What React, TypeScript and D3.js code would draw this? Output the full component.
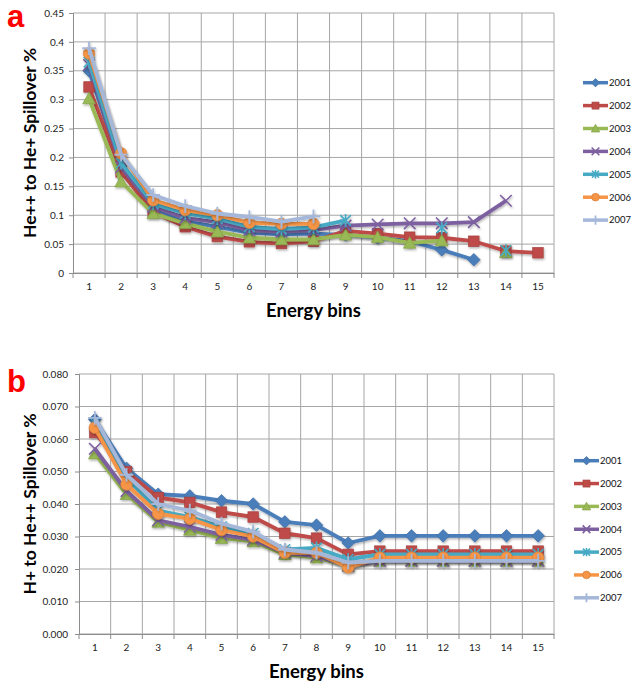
import React, { useEffect, useRef } from "react";
import * as d3 from "d3";

const bins = ["1", "2", "3", "4", "5", "6", "7", "8", "9", "10", "11", "12", "13", "14", "15"];
const years = ["2001", "2002", "2003", "2004", "2005", "2006", "2007"];
const colors = ["#4A7EBB", "#BE4B48", "#98B954", "#7D60A0", "#46AAC5", "#F69546", "#A5B8DA"];
const markers = ["diamond", "square", "triangle", "x", "star", "circle", "plus"];

// panel a: He++ to He+ spillover
const heA2001 = [0.35, 0.185, 0.112, 0.09, 0.08, 0.07, 0.067, 0.068, 0.066, 0.061, 0.055, 0.04, 0.023, null, null];
const heA2002 = [0.322, 0.175, 0.105, 0.08, 0.063, 0.054, 0.051, 0.055, 0.073, 0.068, 0.062, 0.061, 0.055, 0.038, 0.035];
const heA2003 = [0.302, 0.158, 0.103, 0.086, 0.0715, 0.061, 0.058, 0.058, 0.066, 0.062, 0.052, 0.056, null, 0.036, null];
const heA2004 = [0.36, 0.183, 0.115, 0.095, 0.088, 0.074, 0.0715, 0.074, 0.082, 0.084, 0.086, 0.086, 0.088, 0.125, null];
const heA2005 = [0.365, 0.19, 0.12, 0.103, 0.094, 0.08, 0.076, 0.079, 0.091, null, null, 0.078, null, 0.039, null];
const heA2006 = [0.38, 0.207, 0.126, 0.109, 0.1, 0.087, 0.085, 0.085, null, null, null, null, null, null, null];
const heA2007 = [0.389, 0.205, 0.135, 0.116, 0.103, 0.097, 0.089, 0.098, null, null, null, null, null, null, null];

// panel b: H+ to He++ spillover
const hB2001 = [0.066, 0.051, 0.043, 0.0425, 0.041, 0.04, 0.0345, 0.0335, 0.028, 0.0302, 0.0302, 0.0302, 0.0302, 0.0302, 0.0302];
const hB2002 = [0.062, 0.05, 0.042, 0.0405, 0.0375, 0.036, 0.031, 0.0295, 0.0245, 0.0255, 0.0255, 0.0255, 0.0255, 0.0255, 0.0255];
const hB2003 = [0.0555, 0.043, 0.0345, 0.032, 0.0295, 0.0285, 0.0245, 0.0235, 0.021, 0.0225, 0.0225, 0.0225, 0.0225, 0.0225, 0.0225];
const hB2004 = [0.057, 0.044, 0.035, 0.033, 0.0305, 0.029, 0.025, 0.024, 0.021, 0.0225, 0.0225, 0.0225, 0.0225, 0.0225, 0.0225];
const hB2005 = [0.065, 0.048, 0.038, 0.036, 0.033, 0.031, 0.026, 0.0265, 0.023, 0.0245, 0.0245, 0.0245, 0.0245, 0.0245, 0.0245];
const hB2006 = [0.0635, 0.046, 0.037, 0.0355, 0.032, 0.03, 0.025, 0.025, 0.0205, 0.0235, 0.0235, 0.0235, 0.0235, 0.0235, 0.0235];
const hB2007 = [0.0665, 0.049, 0.04, 0.038, 0.034, 0.0315, 0.026, 0.025, 0.022, 0.0225, 0.0225, 0.0225, 0.0225, 0.0225, 0.0225];

const panels = [
  {
    label: "a", yTitle: "He++ to He+ Spillover %", series: [heA2001, heA2002, heA2003, heA2004, heA2005, heA2006, heA2007],
    left: 73, right: 554, top: 13, bottom: 273, yMax: 0.45, step: 0.05, fmt: (v) => String(+v.toFixed(2)), pad: 5,
    titleY: 317, legX: 583, legY: 82.7, legDy: 22.9, labelY: 27,
  },
  {
    label: "b", yTitle: "H+ to He++ Spillover %", series: [hB2001, hB2002, hB2003, hB2004, hB2005, hB2006, hB2007],
    left: 79, right: 554, top: 374, bottom: 634, yMax: 0.08, step: 0.01, fmt: d3.format(".3f"), pad: 7,
    titleY: 678, legX: 574, legY: 460.7, legDy: 22.85, labelY: 392,
  },
];

const font = "Lato, 'Open Sans', sans-serif";

function drawMarker(g, type, color, s) {
  const dark = d3.color(color).darker(0.4).toString();
  if (type === "diamond") {
    g.append("path").attr("d", `M0,${-6 * s}L${6 * s},0L0,${6 * s}L${-6 * s},0Z`).attr("fill", color).attr("stroke", dark).attr("stroke-width", 0.7);
  } else if (type === "square") {
    g.append("rect").attr("x", -5 * s).attr("y", -5 * s).attr("width", 10 * s).attr("height", 10 * s).attr("fill", color).attr("stroke", dark).attr("stroke-width", 0.7);
  } else if (type === "triangle") {
    g.append("path").attr("d", `M0,${-6 * s}L${6 * s},${5 * s}L${-6 * s},${5 * s}Z`).attr("fill", color).attr("stroke", dark).attr("stroke-width", 0.7);
  } else if (type === "circle") {
    g.append("circle").attr("r", 5.5 * s).attr("fill", color).attr("stroke", dark).attr("stroke-width", 0.7);
  } else if (type === "x") {
    g.append("path").attr("d", `M${-5.5 * s},${-5.5 * s}L${5.5 * s},${5.5 * s}M${-5.5 * s},${5.5 * s}L${5.5 * s},${-5.5 * s}`).attr("stroke", color).attr("stroke-width", 1.6);
  } else if (type === "star") {
    g.append("path").attr("d", `M${-5 * s},${-5 * s}L${5 * s},${5 * s}M${-5 * s},${5 * s}L${5 * s},${-5 * s}M0,${-6 * s}V${6 * s}`).attr("stroke", color).attr("stroke-width", 1.6);
  } else {
    g.append("path").attr("d", `M${-6.5 * s},0H${6.5 * s}M0,${-6.5 * s}V${6.5 * s}`).attr("stroke", color).attr("stroke-width", 1.8);
  }
}

const App = () => {
  const ref = useRef(null);

  useEffect(() => {
    const svg = d3.select(ref.current);
    svg.selectAll("*").remove();

    const defs = svg.append("defs");
    defs.append("filter").attr("id", "shadow").attr("x", "-20%").attr("y", "-20%").attr("width", "140%").attr("height", "140%")
      .append("feDropShadow").attr("dx", 0.8).attr("dy", 1.5).attr("stdDeviation", 1).attr("flood-opacity", 0.3);

    panels.forEach((p) => {
      const chart = svg.append("g");
      const x = d3.scaleBand().domain(bins).range([p.left, p.right]).padding(0);
      const y = d3.scaleLinear().domain([0, p.yMax]).range([p.bottom, p.top]);
      const yTicks = d3.range(0, p.yMax + p.step / 2, p.step);

      // gridlines
      chart.append("g").selectAll("line").data(yTicks).enter().append("line")
        .attr("x1", p.left).attr("x2", p.right).attr("y1", (d) => y(d)).attr("y2", (d) => y(d))
        .attr("stroke", "#A6A6A6").attr("stroke-width", 1);
      chart.append("g").selectAll("line").data(bins).enter().append("line")
        .attr("x1", (d) => x(d) + x.bandwidth()).attr("x2", (d) => x(d) + x.bandwidth())
        .attr("y1", p.top).attr("y2", p.bottom)
        .attr("stroke", "#A6A6A6").attr("stroke-width", 1);

      // y axis
      const ya = chart.append("g").attr("transform", `translate(${p.left},0)`)
        .call(d3.axisLeft(y).tickValues(yTicks).tickFormat(p.fmt).tickSize(4).tickPadding(p.pad));
      ya.select(".domain").attr("stroke", "#8C8C8C");
      ya.selectAll(".tick line").attr("stroke", "#8C8C8C");
      ya.selectAll("text").attr("font-family", font).attr("font-size", 10).attr("fill", "#222");

      // x axis
      const xa = chart.append("g").attr("transform", `translate(0,${p.bottom})`)
        .call(d3.axisBottom(x).tickSize(0).tickPadding(10));
      xa.select(".domain").attr("stroke", "#8C8C8C");
      xa.selectAll("text").attr("font-family", font).attr("font-size", 10).attr("fill", "#222");
      chart.append("g").selectAll("line").data([bins[0], ...bins]).enter().append("line")
        .attr("x1", (d, i) => (i === 0 ? p.left : x(d) + x.bandwidth()))
        .attr("x2", (d, i) => (i === 0 ? p.left : x(d) + x.bandwidth()))
        .attr("y1", p.bottom).attr("y2", p.bottom + 5)
        .attr("stroke", "#8C8C8C");

      // series
      const line = d3.line()
        .defined((d) => d != null)
        .x((d, i) => x(bins[i]) + x.bandwidth() / 2)
        .y((d) => y(d));

      p.series.forEach((vals, si) => {
        const sg = chart.append("g").attr("filter", "url(#shadow)");
        sg.append("path").datum(vals).attr("d", line).attr("fill", "none")
          .attr("stroke", colors[si]).attr("stroke-width", 3.8).attr("stroke-linejoin", "round");
        vals.forEach((v, i) => {
          if (v == null) return;
          const mg = sg.append("g").attr("transform", `translate(${x(bins[i]) + x.bandwidth() / 2},${y(v)})`);
          drawMarker(mg, markers[si], colors[si], 1.05);
        });
      });

      // legend
      years.forEach((yr, si) => {
        const ly = p.legY + si * p.legDy;
        const lg = svg.append("g");
        lg.append("line").attr("x1", p.legX).attr("x2", p.legX + 25).attr("y1", ly).attr("y2", ly)
          .attr("stroke", colors[si]).attr("stroke-width", 3.5);
        const mg = lg.append("g").attr("transform", `translate(${p.legX + 12.5},${ly})`);
        drawMarker(mg, markers[si], colors[si], 0.7);
        lg.append("text").attr("x", p.legX + 26).attr("y", ly).attr("dy", "0.35em")
          .attr("font-family", font).attr("font-size", 9.5).attr("fill", "#111").text(yr);
      });

      // titles
      svg.append("text").attr("x", (p.left + p.right) / 2).attr("y", p.titleY).attr("text-anchor", "middle")
        .attr("font-family", font).attr("font-weight", "bold").attr("font-size", 18.5).text("Energy bins");
      svg.append("text").attr("transform", `translate(36,${(p.top + p.bottom) / 2}) rotate(-90)`)
        .attr("text-anchor", "middle").attr("font-family", font).attr("font-weight", "bold").attr("font-size", 17.5)
        .text(p.yTitle);
      svg.append("text").attr("x", 7).attr("y", p.labelY).attr("font-family", "'Liberation Sans', Arial, sans-serif")
        .attr("font-weight", "bold").attr("font-size", 31).attr("fill", "#FF0000").text(p.label);
    });
  }, []);

  return (
    <svg ref={ref} width={631} height={682} style={{ position: "absolute", left: 0, top: 0, background: "#fff" }} />
  );
};

export default App;
